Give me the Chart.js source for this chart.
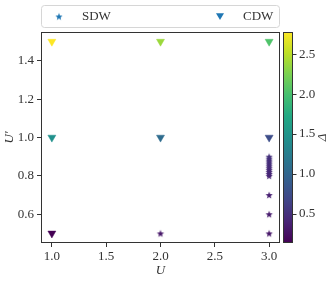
<!DOCTYPE html>
<html>
<head>
<meta charset="utf-8">
<script src="https://cdn.jsdelivr.net/npm/chart.js@4.4.0/dist/chart.umd.min.js"></script>
<style>
html, body { margin: 0; padding: 0; background: #fff; }
</style>
</head>
<body>
<canvas id="chart" width="333" height="281"></canvas>
<script>
// datos
const serieNombres = ["SDW", "CDW"];

const sdwU     = [2.0, 3.0, 3.0, 3.0, 3.0, 3.0, 3.0, 3.0, 3.0, 3.0, 3.0, 3.0, 3.0, 3.0, 3.0];
const sdwUp    = [0.5, 0.5, 0.6, 0.7, 0.80, 0.81, 0.82, 0.83, 0.84, 0.85, 0.86, 0.87, 0.88, 0.89, 0.90];
const sdwDelta = [0.30, 0.30, 0.33, 0.36, 0.40, 0.41, 0.42, 0.43, 0.44, 0.45, 0.46, 0.47, 0.48, 0.49, 0.50];

const cdwU     = [1.0, 1.0, 1.0, 2.0, 2.0, 3.0, 3.0];
const cdwUp    = [0.5, 1.0, 1.5, 1.0, 1.5, 1.0, 1.5];
const cdwDelta = [0.13, 1.45, 2.78, 1.06, 2.38, 0.75, 2.04];

const ticksU = [1.0, 1.5, 2.0, 2.5, 3.0];
const ticksUp = [0.6, 0.8, 1.0, 1.2, 1.4];
const ticksDelta = [0.5, 1.0, 1.5, 2.0, 2.5];

const deltaMin = 0.13, deltaMax = 2.78;

const fuente = "'Liberation Serif', 'DejaVu Serif', serif";
const colorTexto = "#333";
const azulLeyenda = "#1f77b4";

// colormap viridis
const viridis = ["#440154", "#482475", "#414487", "#355f8d", "#2a788e", "#21918c",
                 "#22a884", "#44bf70", "#7ad151", "#bddf26", "#fde725"];
function hexRgb(h) {
    return [parseInt(h.substr(1, 2), 16), parseInt(h.substr(3, 2), 16), parseInt(h.substr(5, 2), 16)];
}
function colorDelta(d) {
    let t = (d - deltaMin) / (deltaMax - deltaMin);
    t = Math.max(0, Math.min(1, t));
    const p = t * 10;
    const i = Math.min(9, Math.floor(p));
    const f = p - i;
    const a = hexRgb(viridis[i]), b = hexRgb(viridis[i + 1]);
    const c = a.map((v, k) => Math.round(v + (b[k] - v) * f));
    return `rgb(${c[0]},${c[1]},${c[2]})`;
}

// estrella rellena como imagen
const cacheEstrellas = {};
function estrella(color, r) {
    const key = color + r;
    if (cacheEstrellas[key]) return cacheEstrellas[key];
    const size = Math.ceil(r * 2) + 2;
    const c = document.createElement("canvas");
    c.width = size; c.height = size;
    const g = c.getContext("2d");
    g.translate(size / 2, size / 2 + 0.4);
    g.beginPath();
    for (let i = 0; i < 10; i++) {
        const rad = i % 2 === 0 ? r : r * 0.42;
        const a = -Math.PI / 2 + i * Math.PI / 5;
        g.lineTo(rad * Math.cos(a), rad * Math.sin(a));
    }
    g.closePath();
    g.fillStyle = color;
    g.fill();
    cacheEstrellas[key] = c;
    return c;
}

const sdwColores = sdwDelta.map(colorDelta);
const cdwColores = cdwDelta.map(colorDelta);

const plugMarco = {
    id: "marco",
    afterDraw(chart) {
        const ctx = chart.ctx;
        const a = chart.chartArea;
        ctx.save();
        // marco del area
        ctx.strokeStyle = colorTexto;
        ctx.lineWidth = 1;
        const l = Math.round(a.left) + 0.5, r = Math.round(a.right) - 0.5;
        const t = Math.round(a.top) + 0.5, b = Math.round(a.bottom) - 0.5;
        ctx.strokeRect(l, t, r - l, b - t);

        // barra de color
        const cb = chart.scales.cb;
        const bx0 = Math.round(a.right) + 3, bx1 = bx0 + 10;
        const by0 = cb.getPixelForValue(deltaMax), by1 = cb.getPixelForValue(deltaMin);
        const grad = ctx.createLinearGradient(0, by1, 0, by0);
        viridis.forEach((c, i) => grad.addColorStop(i / 10, c));
        ctx.fillStyle = grad;
        ctx.fillRect(bx0, by0, bx1 - bx0, by1 - by0);
        ctx.strokeStyle = colorTexto;
        ctx.strokeRect(bx0 + 0.5, Math.round(by0) + 0.5, bx1 - bx0 - 1, Math.round(by1 - by0) - 1);
        cb.ticks.forEach(tk => {
            const y = Math.round(cb.getPixelForValue(tk.value)) + 0.5;
            ctx.beginPath();
            ctx.moveTo(bx1, y);
            ctx.lineTo(bx1 + 3.5, y);
            ctx.stroke();
        });
        // etiqueta Δ
        ctx.fillStyle = colorTexto;
        ctx.font = "italic 13px " + fuente;
        ctx.textAlign = "center";
        ctx.textBaseline = "middle";
        ctx.translate(323, (by0 + by1) / 2);
        ctx.rotate(-Math.PI / 2);
        ctx.fillText("\u0394", 0, 0);
        ctx.setTransform(1, 0, 0, 1, 0, 0);

        // leyenda
        const lx0 = Math.round(a.left) + 0.5, lx1 = Math.round(a.right) - 0.5;
        const ly0 = 5.5, ly1 = 27.5, rr = 3;
        ctx.beginPath();
        ctx.moveTo(lx0 + rr, ly0);
        ctx.arcTo(lx1, ly0, lx1, ly1, rr);
        ctx.arcTo(lx1, ly1, lx0, ly1, rr);
        ctx.arcTo(lx0, ly1, lx0, ly0, rr);
        ctx.arcTo(lx0, ly0, lx1, ly0, rr);
        ctx.closePath();
        ctx.fillStyle = "#fff";
        ctx.fill();
        ctx.strokeStyle = "#d6d6d6";
        ctx.stroke();

        const cy = 16.5;
        const paso = 161;
        serieNombres.forEach((nombre, i) => {
            const mx = 59 + i * paso;
            if (i === 0) {
                const img = estrella(azulLeyenda, 3.8);
                ctx.drawImage(img, mx - img.width / 2, cy - img.height / 2);
            } else {
                ctx.beginPath();
                ctx.moveTo(mx - 4, cy - 3.2);
                ctx.lineTo(mx + 4, cy - 3.2);
                ctx.lineTo(mx, cy + 3.6);
                ctx.closePath();
                ctx.fillStyle = azulLeyenda;
                ctx.fill();
            }
            ctx.fillStyle = colorTexto;
            ctx.font = "13px " + fuente;
            ctx.textAlign = "left";
            ctx.textBaseline = "middle";
            ctx.fillText(nombre, mx + 23, cy);
        });
        ctx.restore();
    }
};

const tickFont = { family: fuente, size: 13 };

new Chart(document.getElementById("chart"), {
    type: "scatter",
    data: {
        datasets: [
            {
                label: serieNombres[0],
                data: sdwU.map((u, i) => ({ x: u, y: sdwUp[i] })),
                pointStyle: c => estrella(sdwColores[c.dataIndex], 3.8),
                backgroundColor: sdwColores,
                borderWidth: 0
            },
            {
                label: serieNombres[1],
                data: cdwU.map((u, i) => ({ x: u, y: cdwUp[i] })),
                pointStyle: "triangle",
                rotation: 180,
                radius: 4.6,
                backgroundColor: cdwColores,
                borderColor: cdwColores,
                borderWidth: 0.5
            }
        ]
    },
    options: {
        responsive: false,
        maintainAspectRatio: false,
        animation: false,
        devicePixelRatio: 1,
        layout: { padding: { top: 32, left: 0, right: 0, bottom: 0 } },
        plugins: { legend: { display: false }, tooltip: { enabled: false } },
        scales: {
            x: {
                type: "linear",
                min: 0.9,
                max: 3.1,
                afterBuildTicks: s => { s.ticks = ticksU.map(v => ({ value: v })); },
                afterFit: s => { s.height = 38; },
                grid: { display: true, drawOnChartArea: false, drawTicks: true, tickLength: 4, color: colorTexto },
                border: { display: false },
                ticks: { font: tickFont, color: colorTexto, padding: 2, maxRotation: 0, callback: v => v.toFixed(1) },
                title: { display: true, text: "U", color: colorTexto, font: { family: fuente, size: 13, style: "italic" }, padding: { top: 0, bottom: 3 } }
            },
            y: {
                type: "linear",
                min: 0.45,
                max: 1.55,
                afterBuildTicks: s => { s.ticks = ticksUp.map(v => ({ value: v })); },
                afterFit: s => { s.width = 41; },
                grid: { display: true, drawOnChartArea: false, drawTicks: true, tickLength: 4, color: colorTexto },
                border: { display: false },
                ticks: { font: tickFont, color: colorTexto, padding: 3, callback: v => v.toFixed(1) },
                title: { display: true, text: "U\u2032", color: colorTexto, font: { family: fuente, size: 13, style: "italic" }, padding: { top: 2, bottom: 0 } }
            },
            cb: {
                axis: "y",
                type: "linear",
                position: "right",
                min: deltaMin,
                max: deltaMax,
                afterBuildTicks: s => { s.ticks = ticksDelta.map(v => ({ value: v })); },
                afterFit: s => { s.width = 53; },
                grid: { display: false, drawOnChartArea: false, drawTicks: true, tickLength: 16 },
                border: { display: false },
                ticks: { font: tickFont, color: colorTexto, padding: 3, callback: v => v.toFixed(1) }
            }
        }
    },
    plugins: [plugMarco]
});
</script>
</body>
</html>
